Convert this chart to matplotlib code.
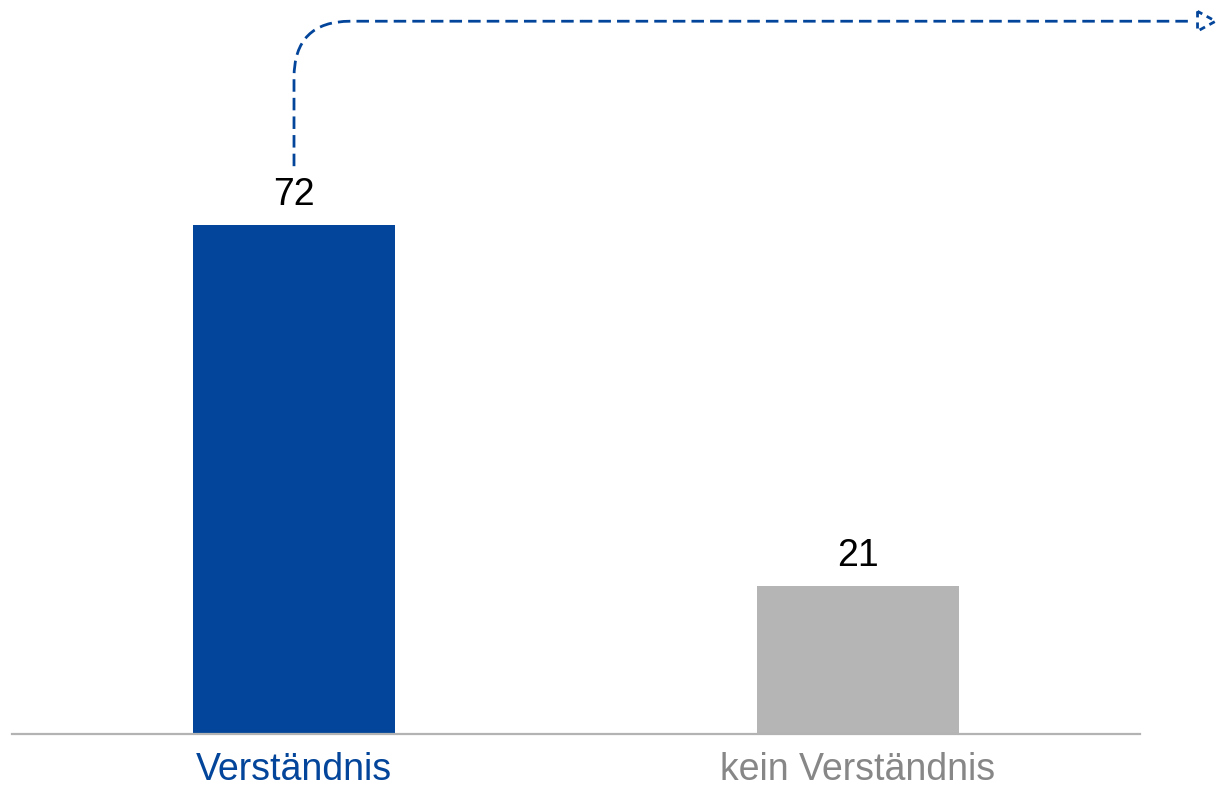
import matplotlib
matplotlib.use("Agg")
import matplotlib.pyplot as plt
from matplotlib.path import Path
from matplotlib.patches import PathPatch, Polygon

categories = ["Verständnis", "kein Verständnis"]
values = [72, 21]
bar_colors = ["#03459A", "#B5B5B5"]
label_colors = ["#03459A", "#878787"]

plt.rcParams['font.family'] = ['Liberation Sans', 'DejaVu Sans']

fig = plt.figure(figsize=(12.17, 7.89), dpi=100)
ax = fig.add_axes([12/1217, 55/789, 1128/1217, 734/789])

x = list(range(len(categories)))
bars = ax.bar(x, values, width=0.358, color=bar_colors, zorder=2)
ax.set_xlim(-0.5, 1.5)
ax.set_ylim(0, 103.8)

for xi, v in zip(x, values):
    ax.annotate(f"{v}", (xi, v), xytext=(0, 8.5), textcoords="offset points",
                ha="center", va="bottom", fontsize=27, color="black")

ax.set_xticks(x)
ax.set_xticklabels(categories, fontsize=27)
for lbl, c in zip(ax.get_xticklabels(), label_colors):
    lbl.set_color(c)
ax.tick_params(axis='x', length=0, pad=13)
ax.set_yticks([])
for s in ["top", "left", "right"]:
    ax.spines[s].set_visible(False)
ax.spines["bottom"].set_color("#B3B3B3")
ax.spines["bottom"].set_linewidth(1.6)

# dashed connector arrow from first bar
arrow_color = "#03459A"
x0 = x[0]
y_start = values[0] + 8.3
y_top = 100.8
rx, ry = 0.1, 8.0
x_end = 1.595
verts = [(x0, y_start), (x0, y_top - ry), (x0, y_top), (x0 + rx, y_top), (x_end, y_top)]
codes = [Path.MOVETO, Path.LINETO, Path.CURVE3, Path.CURVE3, Path.LINETO]
ax.add_patch(PathPatch(Path(verts, codes), fill=False, edgecolor=arrow_color,
                       lw=2.0, linestyle=(0, (4.5, 2.2)), clip_on=False, zorder=3))
head = Polygon([(1.602, y_top + 1.4), (1.602, y_top - 1.4), (1.634, y_top)],
               closed=True, fill=False, edgecolor=arrow_color, lw=2.0,
               linestyle=(0, (2.2, 1.8)), clip_on=False, zorder=3)
ax.add_patch(head)

fig.savefig("out.png", dpi=100)
